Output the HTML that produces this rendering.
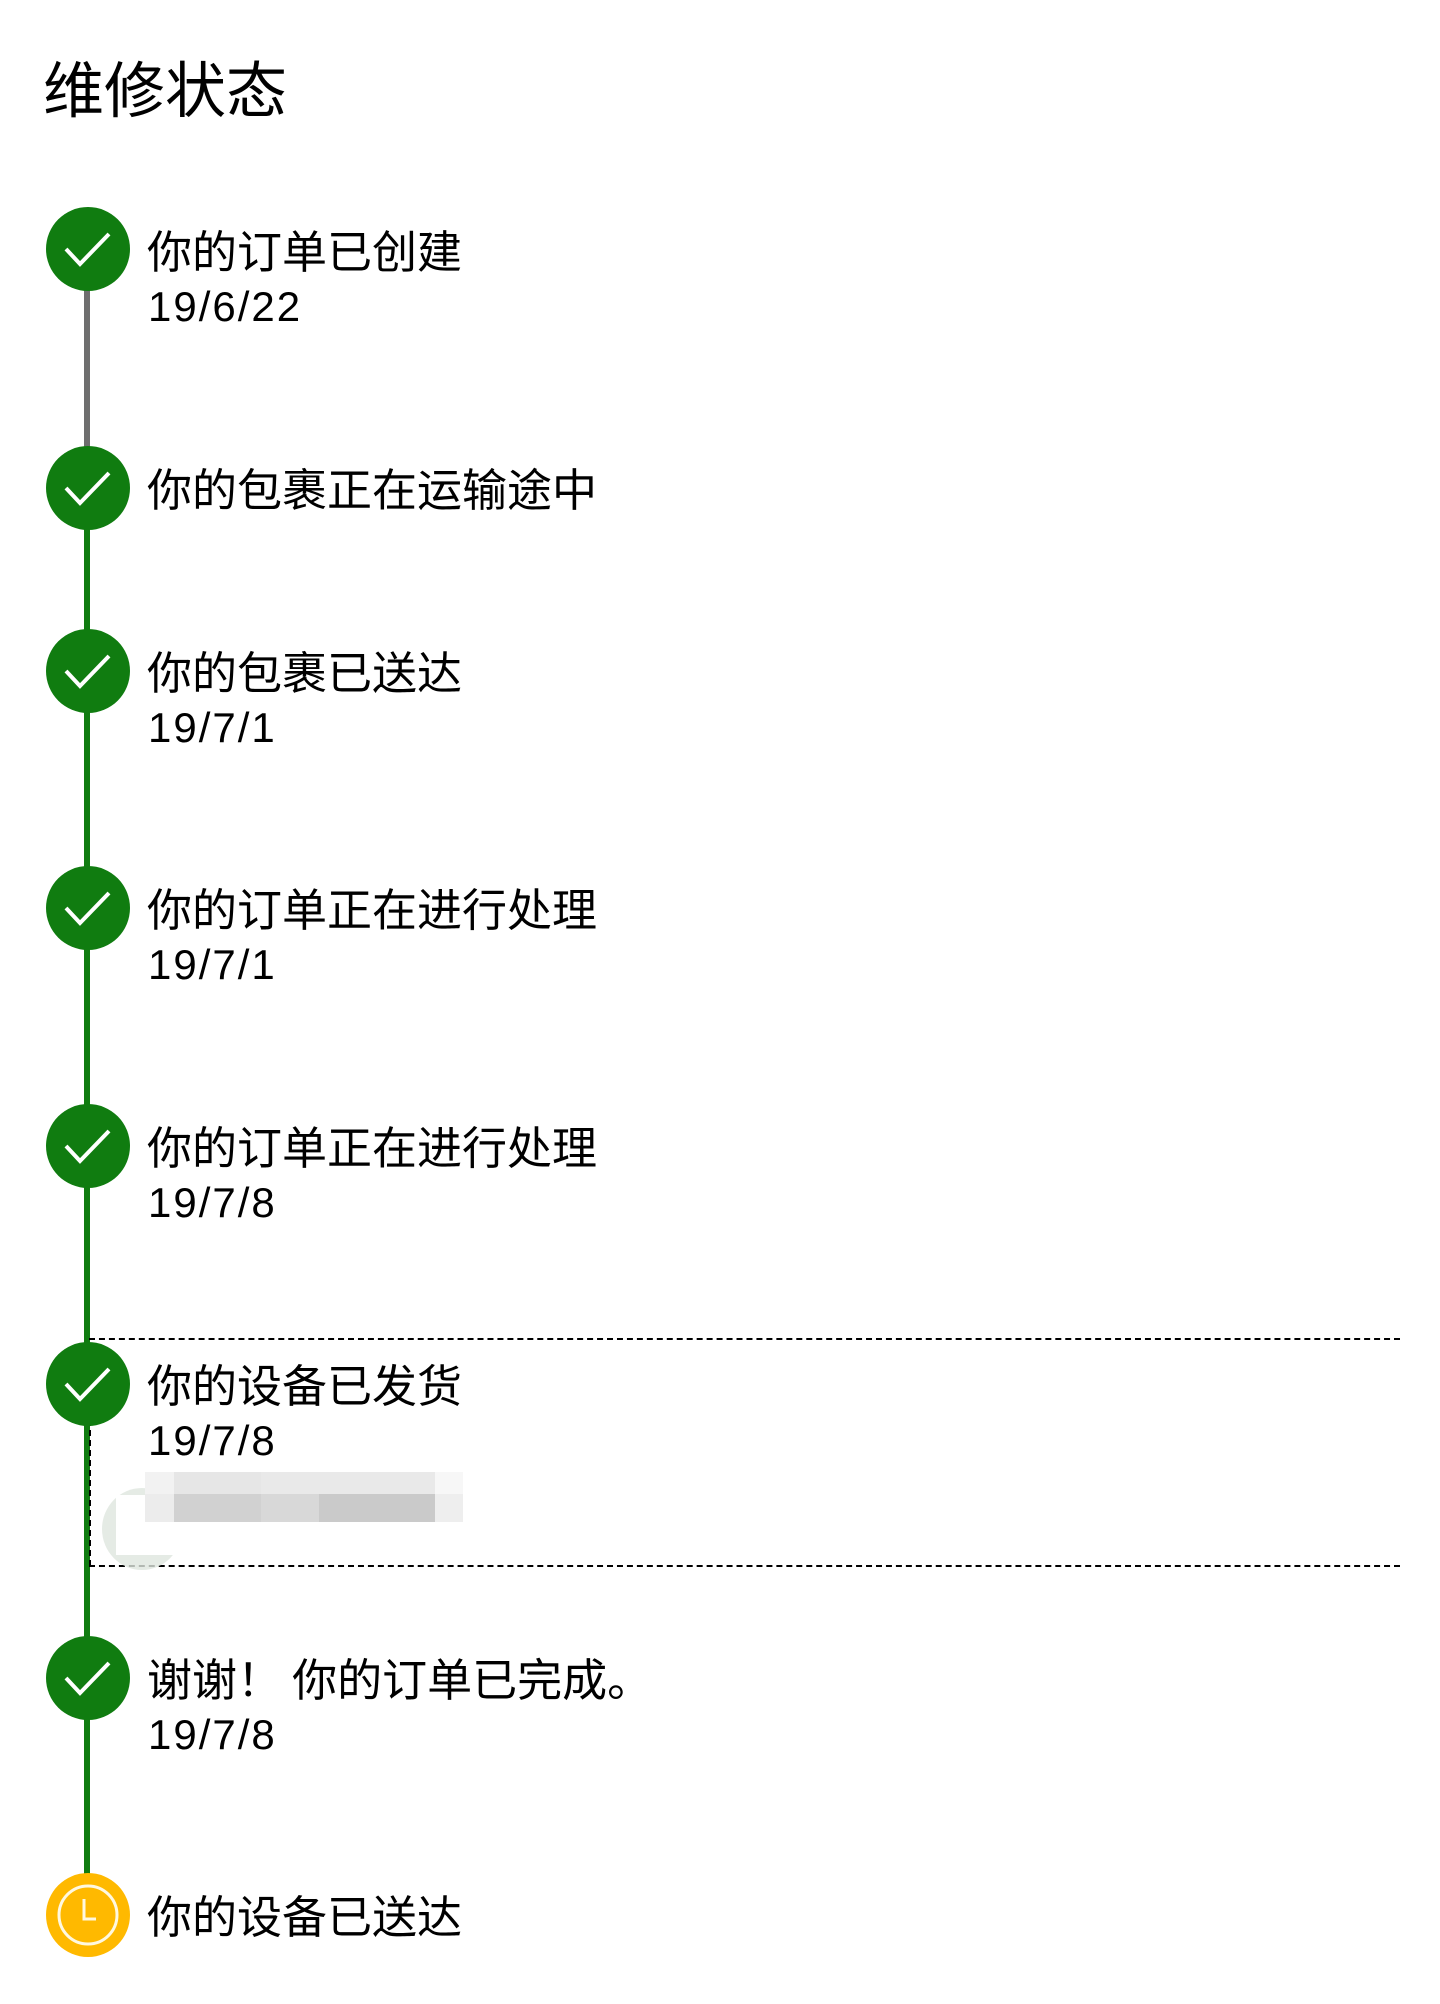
<!DOCTYPE html>
<html><head><meta charset="utf-8"><style>
html,body{margin:0;padding:0;background:#fff;}
body{width:1440px;height:2004px;position:relative;overflow:hidden;font-family:"Liberation Sans","Noto Sans CJK SC",sans-serif;color:#000;}
.t{position:absolute;left:147px;font-size:45px;line-height:60px;white-space:nowrap;font-family:"Noto Sans CJK SC","Liberation Sans",sans-serif;}
.d{position:absolute;left:148px;font-size:42px;line-height:60px;letter-spacing:2px;white-space:nowrap;font-family:"Liberation Sans",sans-serif;}
.title{position:absolute;left:43px;top:44px;font-size:61px;line-height:84px;font-family:"Noto Sans CJK SC",sans-serif;}
.c{position:absolute;left:46px;width:84px;height:84px;border-radius:50%;background:#107c10;}
.c svg{position:absolute;left:0;top:0}
.ln{position:absolute;left:84px;width:6px;background:#107c10;}
.px{position:absolute;height:25px;}
</style></head><body>
<div class="title">维修状态</div>

<div class="ln" style="top:280px;height:210px;background:#6e6e6e"></div>
<div class="ln" style="top:487px;height:1400px"></div>

<div style="position:absolute;left:89px;top:1338px;width:1311px;height:0;border-top:2.5px dashed #000"></div>
<div style="position:absolute;left:89px;top:1565px;width:1311px;height:0;border-top:2.5px dashed #000"></div>
<div style="position:absolute;left:89px;top:1420px;width:0;height:146px;border-left:2px dashed #000"></div>

<div style="position:absolute;left:102px;top:1488px;width:80px;height:82px;border-radius:50%;background:#dfe6df;opacity:.8"></div>
<div style="position:absolute;left:116px;top:1495px;width:70px;height:60px;background:#fff"></div>
<div style="position:absolute;left:145px;top:1472px;width:318px;height:50px;">
<div class="px" style="left:0;top:0;width:29px;background:#f2f2f2"></div>
<div class="px" style="left:29px;top:0;width:87px;background:#e6e6e6"></div>
<div class="px" style="left:116px;top:0;width:174px;background:#e9e9e9"></div>
<div class="px" style="left:290px;top:0;width:28px;background:#f7f7f7"></div>
<div class="px" style="left:0;top:22px;width:29px;height:28px;background:#ececec"></div>
<div class="px" style="left:29px;top:22px;width:87px;height:28px;background:#d1d1d1"></div>
<div class="px" style="left:116px;top:22px;width:58px;height:28px;background:#d8d8d8"></div>
<div class="px" style="left:174px;top:22px;width:116px;height:28px;background:#cacaca"></div>
<div class="px" style="left:290px;top:22px;width:28px;height:28px;background:#eeeeee"></div>
</div>

<!-- circles -->
<div class="c" style="top:207px"><svg width="84" height="84"><polyline points="20,42 34,57 63,27" fill="none" stroke="#fff" stroke-width="4"/></svg></div>
<div class="c" style="top:446px"><svg width="84" height="84"><polyline points="20,42 34,57 63,27" fill="none" stroke="#fff" stroke-width="4"/></svg></div>
<div class="c" style="top:629px"><svg width="84" height="84"><polyline points="20,42 34,57 63,27" fill="none" stroke="#fff" stroke-width="4"/></svg></div>
<div class="c" style="top:866px"><svg width="84" height="84"><polyline points="20,42 34,57 63,27" fill="none" stroke="#fff" stroke-width="4"/></svg></div>
<div class="c" style="top:1104px"><svg width="84" height="84"><polyline points="20,42 34,57 63,27" fill="none" stroke="#fff" stroke-width="4"/></svg></div>
<div class="c" style="top:1342px"><svg width="84" height="84"><polyline points="20,42 34,57 63,27" fill="none" stroke="#fff" stroke-width="4"/></svg></div>
<div class="c" style="top:1636px"><svg width="84" height="84"><polyline points="20,42 34,57 63,27" fill="none" stroke="#fff" stroke-width="4"/></svg></div>
<div class="c" style="top:1873px;background:#ffb900"><svg width="84" height="84"><circle cx="42" cy="42" r="29" fill="none" stroke="#fff8e0" stroke-width="3"/><polyline points="38,26 38,46 50,46" fill="none" stroke="#fff8e0" stroke-width="3"/></svg></div>

<!-- texts -->
<div class="t" style="top:219px">你的订单已创建</div>
<div class="d" style="top:277px">19/6/22</div>
<div class="t" style="top:457px">你的包裹正在运输途中</div>
<div class="t" style="top:640px">你的包裹已送达</div>
<div class="d" style="top:698px">19/7/1</div>
<div class="t" style="top:877px">你的订单正在进行处理</div>
<div class="d" style="top:935px">19/7/1</div>
<div class="t" style="top:1115px">你的订单正在进行处理</div>
<div class="d" style="top:1173px">19/7/8</div>
<div class="t" style="top:1353px">你的设备已发货</div>
<div class="d" style="top:1411px">19/7/8</div>
<div class="t" style="top:1647px">谢谢！ 你的订单已完成。</div>
<div class="d" style="top:1705px">19/7/8</div>
<div class="t" style="top:1884px">你的设备已送达</div>
</body></html>
